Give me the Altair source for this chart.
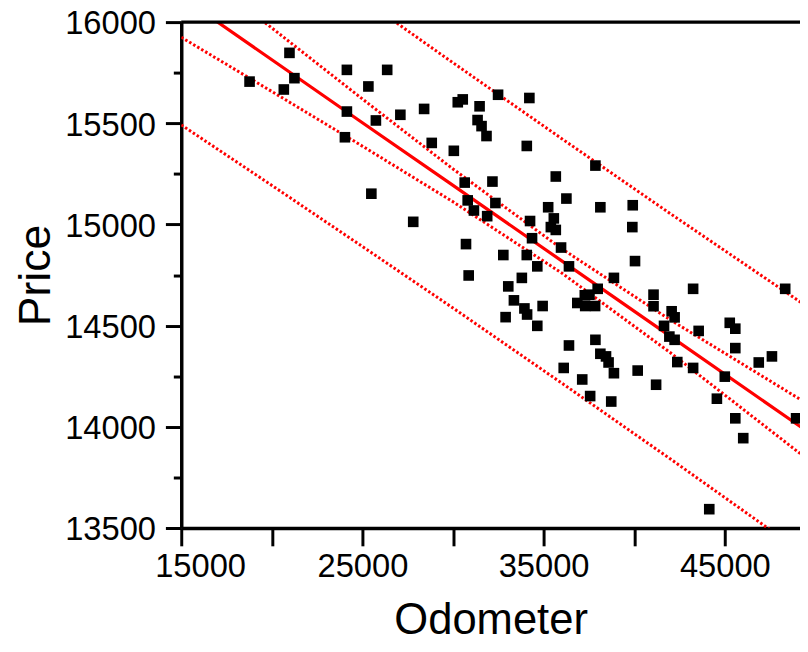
import altair as alt
import pandas as pd

# Scatter data
odometer = [18770, 20973, 21246, 20661, 24142, 25328, 26366, 24142, 25743, 27093,
            28404, 28825, 24033, 25492, 27803, 30716, 30863, 31153, 31885, 32339,
            32486, 34213, 34071, 37858, 35672, 32175, 36257, 39918, 35251, 38131,
            34251, 35563, 35399, 35672, 39896, 34361, 32776, 34071, 35962, 34650,
            36399, 40044, 33798, 33049, 38880, 33361, 33940, 34088, 34945, 32902,
            34650, 36858, 37984, 37273, 37530, 37295, 37842, 41066, 41066, 43251,
            42066, 42230, 41645, 41940, 42230, 43557, 48333, 45273, 45579, 45579,
            46874, 47601, 36399, 37858, 38131, 38443, 38585, 38880, 36109, 37131,
            40191, 42377, 43251, 45000, 37568, 38732, 41208, 44563, 45579, 46017,
            48935, 44142, 30262, 30536, 31355, 31465, 31574, 31847, 30044, 30645,
            30809]
price = [15706, 15848, 15723, 15667, 15764, 15682, 15764, 15558, 15514, 15542,
         15571, 15403, 15431, 15152, 15013, 14903, 14748, 15069, 15041, 15106,
         15641, 15625, 15388, 15291, 15237, 15212, 15128, 15095, 15085, 15085,
         15017, 15030, 14987, 14973, 14987, 14932, 14849, 14849, 14886, 14793,
         14793, 14819, 14736, 14694, 14736, 14625, 14585, 14555, 14597, 14542,
         14499, 14612, 14682, 14650, 14653, 14597, 14597, 14653, 14596, 14682,
         14571, 14541, 14499, 14446, 14430, 14474, 14682, 14514, 14485, 14389,
         14318, 14348, 14402, 14430, 14361, 14348, 14318, 14265, 14291, 14234,
         14278, 14320, 14291, 14248, 14152, 14125, 14208, 14139, 14042, 13944,
         14042, 13593, 15604, 15618, 15516, 15584, 15486, 15437, 15364, 15207,
         15119]

# Fitted line and bands
band_x = [15000, 20000, 25000, 30000, 36000, 42000, 49300]
fit_y = [16125, 15814, 15503, 15193, 14820, 14447, 13993]
ci_upper = [16325, 15971, 15620, 15274, 14880, 14528, 14128]
ci_lower = [15925, 15657, 15387, 15112, 14760, 14366, 13858]
pi_upper = [16758, 16435, 16115, 15799, 15424, 15053, 14609]
pi_lower = [15492, 15193, 14891, 14587, 14216, 13841, 13377]

x_ticks = [15000, 20000, 25000, 30000, 35000, 40000, 45000]
y_ticks = [13500, 13750, 14000, 14250, 14500, 14750, 15000, 15250, 15500, 15750, 16000]
x_domain = [15000, 49150]
y_domain = [13500, 16000]

FONT = "Liberation Sans"

pts = pd.DataFrame({"Odometer": odometer, "Price": price})
fit = pd.DataFrame({"Odometer": band_x, "Price": fit_y})
bands = pd.concat([
    pd.DataFrame({"Odometer": band_x, "Price": ys, "band": name})
    for name, ys in [("ci_upper", ci_upper), ("ci_lower", ci_lower),
                     ("pi_upper", pi_upper), ("pi_lower", pi_lower)]
], ignore_index=True)

x_axis = alt.Axis(
    values=x_ticks, format="d",
    labelExpr="datum.value % 10000 == 5000 ? datum.label : ''",
    labelFlush=False,
    labelOffset={"condition": {"test": "datum.value == 15000", "value": 19}, "value": 0},
    tickSize=18, tickWidth=3, tickColor="black",
    domainWidth=3.5, domainColor="black",
    labelFont=FONT, labelFontSize=33, labelColor="black", labelPadding=5,
    title="Odometer", titleFont=FONT, titleFontSize=44, titleFontWeight="normal",
    titleColor="black", titlePadding=16, grid=False,
)
y_axis = alt.Axis(
    values=y_ticks, format="d",
    labelExpr="datum.value % 500 == 0 ? datum.label : ''",
    labelOffset=2,
    tickSize={"condition": {"test": "datum.value % 500 == 0", "value": 16}, "value": 8},
    tickWidth=3, tickColor="black",
    domainWidth=3.5, domainColor="black",
    labelFont=FONT, labelFontSize=33, labelColor="black", labelPadding=10,
    title="Price", titleFont=FONT, titleFontSize=45, titleFontWeight="normal",
    titleColor="black", titlePadding=6, grid=False,
)

xs = alt.Scale(domain=x_domain, nice=False, zero=False)
ys = alt.Scale(domain=y_domain, nice=False, zero=False)

points = alt.Chart(pts).mark_square(size=115, color="black", opacity=1).encode(
    x=alt.X("Odometer:Q", scale=xs, axis=x_axis),
    y=alt.Y("Price:Q", scale=ys, axis=y_axis),
)

fit_line = alt.Chart(fit).mark_line(color="#ff0000", strokeWidth=3.2, clip=True).encode(
    x=alt.X("Odometer:Q", scale=xs),
    y=alt.Y("Price:Q", scale=ys),
)

band_lines = alt.Chart(bands).mark_line(
    color="#ff0000", strokeWidth=3, strokeDash=[2.5, 2.2], clip=True
).encode(
    x=alt.X("Odometer:Q", scale=xs),
    y=alt.Y("Price:Q", scale=ys),
    detail="band:N",
)

top_frame = alt.Chart(pd.DataFrame({"Price": [16000]})).mark_rule(
    color="black", strokeWidth=3.5
).encode(y=alt.Y("Price:Q", scale=ys))

chart = alt.layer(band_lines, fit_line, points, top_frame).properties(
    width=625, height=511,
    autosize=alt.AutoSizeParams(type="none"),
    padding={"left": 175, "top": 11, "right": 0, "bottom": 122},
    background="white",
).configure_view(strokeWidth=0)

chart.save("out.html", embed_options={"renderer": "svg", "actions": False})
